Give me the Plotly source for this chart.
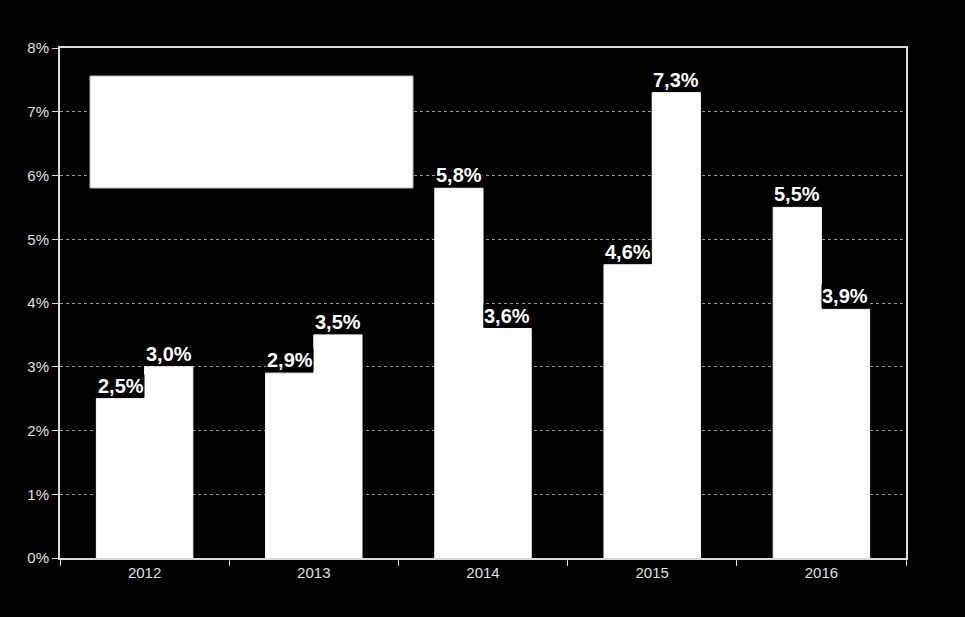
import plotly.graph_objects as go

years = ["2012", "2013", "2014", "2015", "2016"]
series_a = [2.5, 2.9, 5.8, 4.6, 5.5]
series_b = [3.0, 3.5, 3.6, 7.3, 3.9]
y_ticks = [0, 1, 2, 3, 4, 5, 6, 7, 8]
y_tick_text = [f"{v}%" for v in y_ticks]

def fmt(v):
    return f"{v:.1f}".replace(".", ",") + "%"

fig = go.Figure()
fig.add_trace(go.Bar(x=years, y=series_a, name="A", marker=dict(color="white", line=dict(color="white", width=1))))
fig.add_trace(go.Bar(x=years, y=series_b, name="B", marker=dict(color="white", line=dict(color="white", width=1))))

annotations = []
for i, (a, b) in enumerate(zip(series_a, series_b)):
    for v, shift in ((a, -24), (b, 24)):
        annotations.append(dict(
            x=i, y=v, xref="x", yref="y", text=fmt(v), showarrow=False,
            xshift=shift, yanchor="bottom", yshift=1,
            font=dict(family="Liberation Sans, Arial", size=20, color="white", weight="bold"),
            bgcolor="black", borderpad=0,
        ))

fig.update_layout(
    width=965, height=617,
    paper_bgcolor="black", plot_bgcolor="black",
    margin=dict(l=60, r=59, t=48, b=59),
    barmode="group", bargap=0.43, bargroupgap=0,
    showlegend=False,
    annotations=annotations,
    font=dict(family="Liberation Sans, Arial", color="#e0e0e0", size=15),
    shapes=[dict(type="rect", xref="paper", yref="paper",
                 x0=(90 - 60) / 846, x1=(413 - 60) / 846,
                 y0=(558 - 188) / 510, y1=(558 - 76) / 510,
                 fillcolor="white", line=dict(color="#bbbbbb", width=1), layer="above")],
)
fig.update_xaxes(
    type="category", range=[-0.5, len(years) - 0.5], showgrid=False, showline=True,
    linecolor="#d9d9d9", linewidth=2, tickangle=0,
    mirror=True, ticks="outside", tickson="boundaries", ticklen=6, tickcolor="#d9d9d9",
    tickfont=dict(size=15, color="#e0e0e0"),
)
fig.update_yaxes(
    range=[0, 8], tickvals=y_ticks, ticktext=y_tick_text,
    showgrid=True, gridcolor="#9a9a9a", griddash="dot", gridwidth=1,
    showline=True, linecolor="#d9d9d9", linewidth=2, mirror=True,
    ticks="outside", ticklen=6, tickcolor="#d9d9d9",
    tickfont=dict(size=15, color="#e0e0e0"), zeroline=False,
)

fig.write_html("out.html")
